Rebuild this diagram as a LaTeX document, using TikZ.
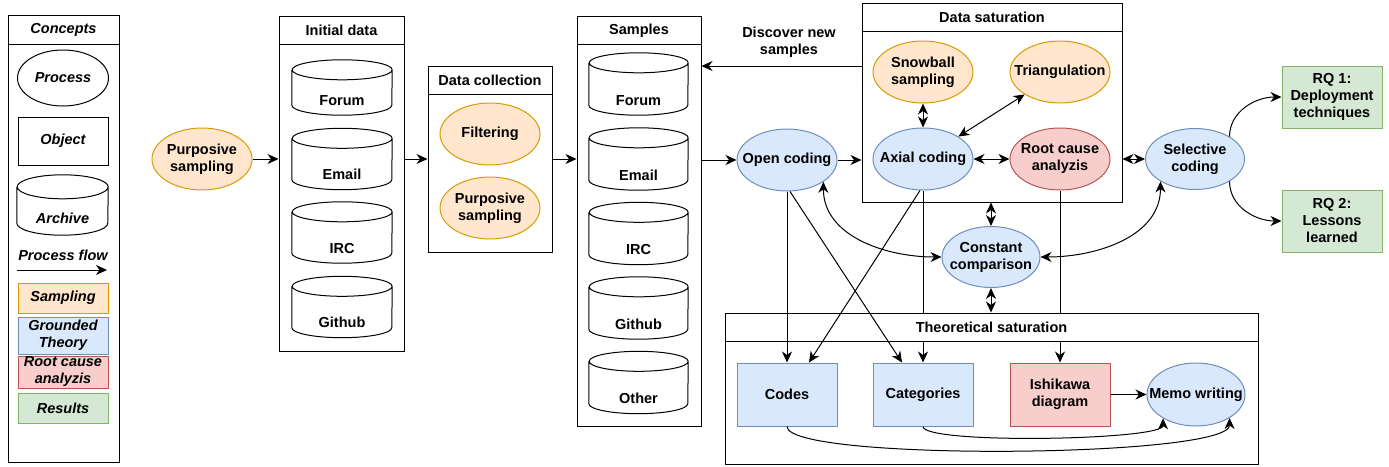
\documentclass[tikz,border=0pt]{standalone}
\usepackage{fontspec}
\setmainfont{Liberation Sans}
\usetikzlibrary{shapes.geometric,arrows.meta}
\definecolor{ofill}{HTML}{FFE6CC}
\definecolor{oline}{HTML}{D79B00}
\definecolor{bfill}{HTML}{DAE8FC}
\definecolor{bline}{HTML}{6C8EBF}
\definecolor{rfill}{HTML}{F8CECC}
\definecolor{rline}{HTML}{B85450}
\definecolor{gfill}{HTML}{D5E8D4}
\definecolor{gline}{HTML}{82B366}

\newcommand\dbcyl[8]{% name, cx, cy, w, h, ry, text, text offset
  \node[cylbox, minimum width=#4pt, minimum height=#5pt] (#1) at (#2,-#3) {};
  \draw[line width=1pt] ([yshift=-#6pt]#1.north west) -- ([yshift=#6pt]#1.south west)
    arc[start angle=180, end angle=360, x radius=#4/2, y radius=#6]
    -- ([yshift=-#6pt]#1.north east)
    arc[start angle=0, end angle=360, x radius=#4/2, y radius=#6];
  \node[base] (#1t) at ([yshift=#8pt]#1.south) {#7};
}
\newcommand\container[6]{% name, cx, cy, w, h, title
  \node[cont, minimum width=#4pt, minimum height=#5pt] (#1) at (#2,-#3) {};
  \node[conthdr, minimum width=#4pt, anchor=north] (#1h) at (#1.north) {#6};
}

\tikzset{
  base/.style={font=\fontsize{14.5}{17}\selectfont\bfseries, align=center, inner sep=0pt},
  ifont/.style={font=\fontsize{14.5}{17}\selectfont\bfseries\itshape},
  proc/.style={base, ellipse, draw, line width=1pt, minimum width=100pt, minimum height=62pt, inner xsep=-20pt},
  obj/.style={base, rectangle, draw, line width=1pt, minimum width=100pt, minimum height=63pt},
  sampp/.style={proc, fill=ofill, draw=oline},
  gtp/.style={proc, fill=bfill, draw=bline},
  rcp/.style={proc, fill=rfill, draw=rline},
  gto/.style={obj, fill=bfill, draw=bline},
  rco/.style={obj, fill=rfill, draw=rline},
  reso/.style={obj, fill=gfill, draw=gline},
  sampo/.style={obj, fill=ofill, draw=oline},
  cylbox/.style={rectangle, draw=none, inner sep=0pt},
  cont/.style={rectangle, draw, line width=1pt, inner sep=0pt},
  conthdr/.style={base, rectangle, draw, fill=white, line width=1pt, minimum height=28.5pt},
  tip/.style={},
  arr/.style={line width=1pt, -{Stealth[length=11pt, width=10pt, inset=3.5pt]}},
  darr/.style={line width=1pt, {Stealth[length=11pt, width=10pt, inset=3.5pt]}-{Stealth[length=11pt, width=10pt, inset=3.5pt]}},
}

\begin{document}
\begin{tikzpicture}[x=1pt, y=1pt]
\useasboundingbox (0,0) rectangle (1389,-466);

% ---------- Legend ----------
\node[cont, minimum width=111pt, minimum height=447pt] (legend) at (63.5,-238.5) {};
\node[conthdr, ifont, minimum width=111pt, minimum height=29pt, anchor=north] (legendh) at (legend.north) {Concepts};
\node[proc, ifont, minimum width=91pt, minimum height=56pt] (lproc) at (63,-78) {Process};
\node[obj, ifont, minimum width=90pt, minimum height=48pt] (lobj) at (63,-141) {Object};
\dbcyl{larch}{62.5}{205}{91}{60}{12}{\itshape Archive}{17}
\node[ifont, inner sep=0pt] (lflow) at (63,-255) {Process flow};
\coordinate (lfa) at (17,-270);
\coordinate (lfb) at (107,-270);
\draw[arr] (lfa) -- (lfb);
\node[sampo, ifont, minimum width=90pt, minimum height=30pt] (lsamp) at (63,-298) {Sampling};
\node[gto, ifont, minimum width=90pt, minimum height=37pt] (lgt) at (63,-335.5) {Grounded\\Theory};
\node[rco, ifont, minimum width=90pt, minimum height=32pt] (lrc) at (63,-372) {Root cause\\analyzis};
\node[reso, ifont, minimum width=90pt, minimum height=30pt] (lres) at (63,-408) {Results};

% ---------- Process nodes ----------
\node[sampp] (purp) at (202,-159) {Purposive\\sampling};

\dbcyl{iforum}{342}{87.5}{100}{55}{10}{Forum}{15}
\dbcyl{iemail}{342}{159}{100}{61}{10}{Email}{15}
\dbcyl{iirc}{342}{232.5}{100}{61}{10}{IRC}{15}
\dbcyl{igit}{342}{307}{100}{61}{10}{Github}{15}

\node[sampp] (filt) at (490,-134) {Filtering};
\node[sampp] (purp2) at (490,-208) {Purposive\\sampling};

\dbcyl{sforum}{638.5}{84}{99}{62}{10}{Forum}{15}
\dbcyl{semail}{638.5}{159}{99}{62}{10}{Email}{15}
\dbcyl{sirc}{638.5}{233.5}{99}{62}{10}{IRC}{15}
\dbcyl{sgit}{638.5}{308}{99}{62}{10}{Github}{15}
\dbcyl{sother}{638.5}{382.5}{99}{62}{10}{Other}{15}

\node[gtp] (open) at (787,-160) {Open coding};
\node[sampp] (snow) at (923,-72) {Snowball\\sampling};
\node[sampp] (tri) at (1060,-72) {Triangulation};
\node[gtp] (axial) at (923,-159) {Axial coding};
\node[rcp] (root) at (1060,-159) {Root cause\\analyzis};
\node[gtp, minimum width=98pt, minimum height=61pt] (const) at (991,-257) {Constant\\comparison};
\node[gtp, minimum width=99pt, minimum height=61pt] (sel) at (1195,-159) {Selective\\coding};
\node[reso, minimum height=62pt] (rq1) at (1332,-97) {RQ 1:\\Deployment\\techniques};
\node[reso, minimum height=62pt] (rq2) at (1332,-221) {RQ 2:\\Lessons\\learned};

\node[gto] (codes) at (787,-394.5) {Codes};
\node[gto] (cat) at (923,-394.5) {Categories};
\node[rco] (ish) at (1060,-394.5) {Ishikawa\\diagram};
\node[gtp, minimum width=98pt, minimum height=63pt] (memo) at (1196,-394.5) {Memo writing};

% ---------- lines that run behind the headers ----------
\draw[arr] (axial.south) -- (cat.north);
\draw[arr] (root.south) -- (ish.north);

% ---------- Containers ----------
\container{initbox}{341.5}{183.5}{125}{335}{Initial data}
\container{dcbox}{490}{159}{124}{186}{Data collection}
\container{sampbox}{639}{221}{124}{410}{Samples}
\container{dsbox}{992}{102.5}{260}{199}{Data saturation}
\container{theo}{991.5}{388.5}{533}{151}{Theoretical saturation}

% ---------- Connectors ----------
\draw[arr] (purp.east) -- (purp.east -| initbox.west);
\draw[arr] (initbox.east |- dcbox) -- (dcbox.west);
\draw[arr] (dcbox.east) -- (sampbox.west |- dcbox);
\draw[arr] (sampbox.east |- open) -- (open.west);
\draw[arr] (open.east) -- (dsbox.west |- open);

\coordinate (disc) at (780,-66);
\draw[arr] (dsbox.west |- disc) -- (sampbox.east |- disc);
\node[base] (disclbl) at (789,-42) {Discover new\\samples};

\draw[darr] (snow.south) -- (axial.north);
\draw[darr] (tri) -- (axial);
\draw[darr] (axial) -- (root);
\draw[darr] (dsbox.east |- sel) -- (sel.west);
\draw[darr] (dsbox.south -| const) -- (const.north);
\draw[darr] (const.south) -- (theo.north -| const);

\draw[darr] (open.-31) to[out=-90, in=180] (const.west);
\draw[darr] (const.east) to[out=0, in=-90] (sel.213);

\draw[arr] (sel.33) to[out=90, in=180] (rq1.west);
\draw[arr] (sel.-33) to[out=-90, in=180] (rq2.west);

\draw[arr] (open.south) -- (codes.north);
\draw[arr] ([xshift=3pt]open.south) -- ([xshift=-21pt]cat.north);
\draw[arr] ([xshift=-3pt]axial.south) -- ([xshift=22pt]codes.north);

\draw[arr] (ish.east) -- (memo.west);
\draw[arr] (codes.south) .. controls +(0,-35) and +(0,-40) .. (memo.-35);
\draw[arr] (cat.south) .. controls +(0,-18) and +(0,-22) .. (memo.216);
\end{tikzpicture}
\end{document}
